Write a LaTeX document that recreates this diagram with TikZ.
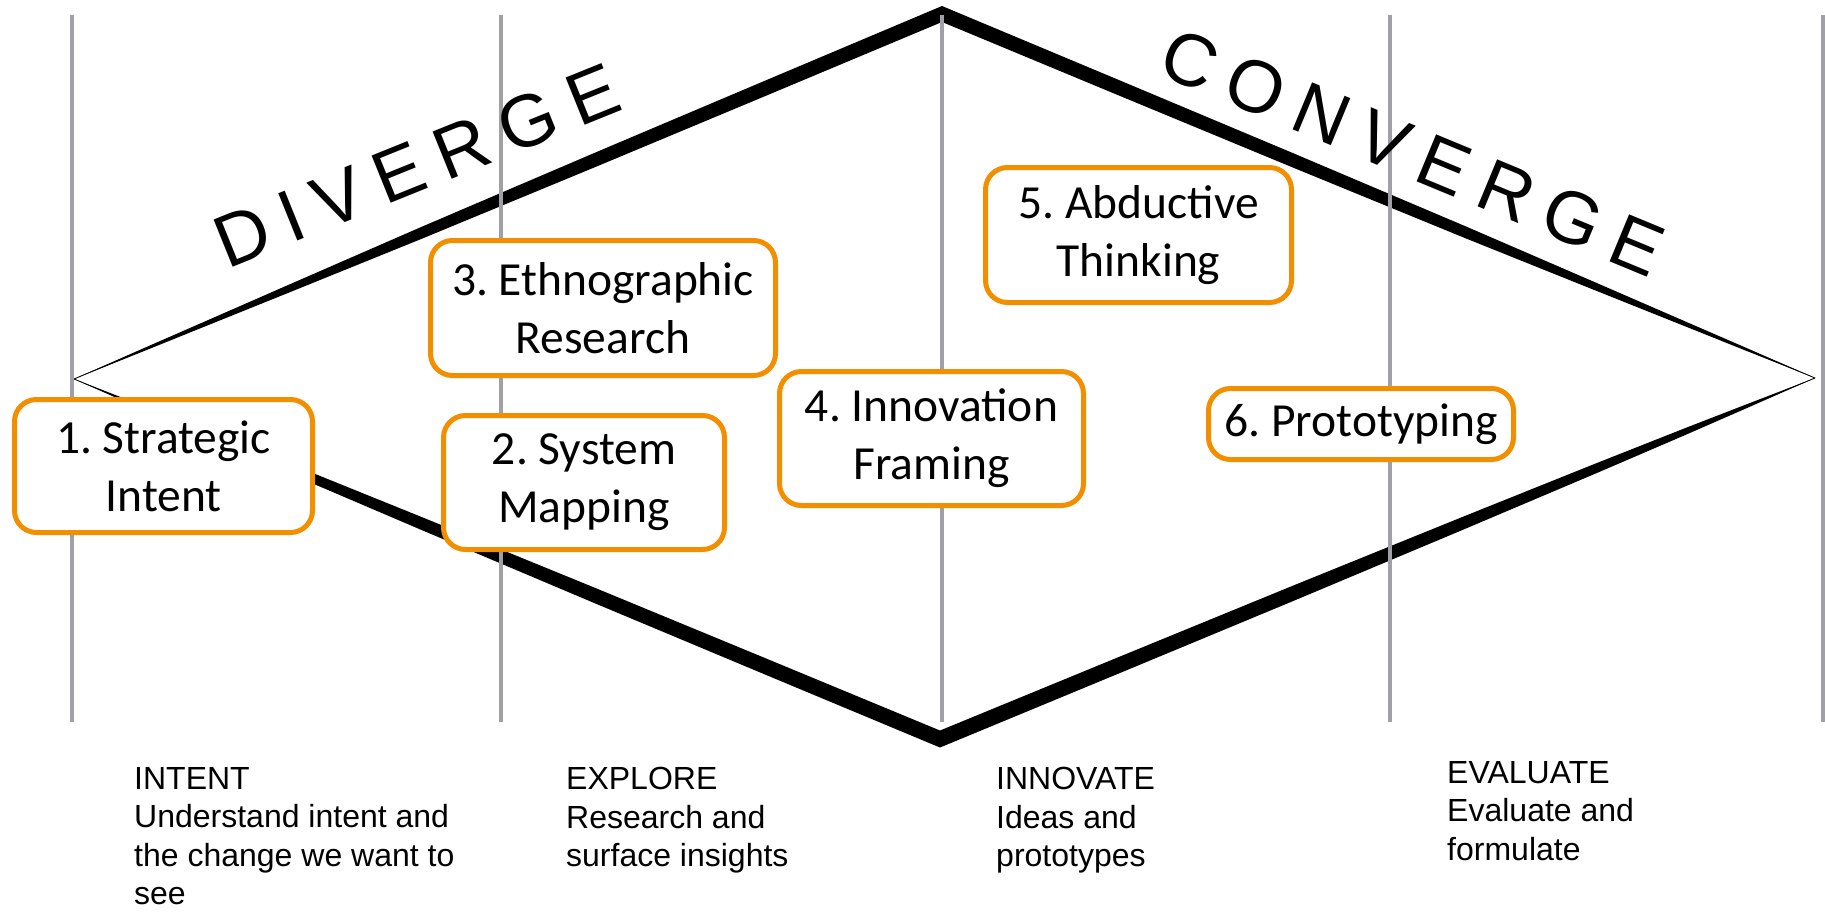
\documentclass[tikz,border=0pt]{standalone}
\usepackage{fontspec}
\setmainfont{Carlito}
\newfontfamily\arialfont{Liberation Sans}
\newfontfamily\spacedfont[LetterSpace=21.6]{Liberation Sans}
\usetikzlibrary{calc}
\definecolor{boxorange}{RGB}{242,143,0}
\definecolor{guidegray}{RGB}{160,160,166}
\def\profup{0.03/1.2,0.08/3,0.15/5,0.25/8,0.4/12,0.6/14.5,0.8/15.5}
\def\profdown{0.8/15.5,0.6/14.5,0.4/12,0.25/8,0.15/5,0.08/3,0.03/1.2}
\def\bprofup{0.03/1.5,0.08/4,0.15/7,0.25/10,0.4/13,0.6/15.5,0.8/16.5}
\def\bprofdown{0.8/16.5,0.6/15.5,0.4/13,0.25/10,0.15/7,0.08/4,0.03/1.5}
\frenchspacing
\begin{document}
\begin{tikzpicture}[x=1pt,y=-1pt,
  stepbox/.style={draw=boxorange, line width=5pt, rounded corners=22pt, fill=white,
    align=center, inner sep=0pt, font=\frenchspacing\fontsize{47.5}{58}\selectfont},
  guide/.style={draw=guidegray, line width=4pt},
  phase/.style={anchor=north west, align=left, inner sep=0pt,
    font=\arialfont\fontsize{32}{38.5}\selectfont},
  bigword/.style={anchor=base west, inner sep=0pt,
    font=\spacedfont\fontsize{74}{80}\selectfont}]
\useasboundingbox (0,0) rectangle (1825,911);
\fill[white] (0,0) rectangle (1825,911);

\coordinate (L) at (74,379);
\coordinate (T) at (942,14);
\coordinate (R) at (1815,378);
\coordinate (B) at (940,739);

% upper chevron (tapered)
\fill (L)
  foreach \t/\h in \profup {-- ($(L)!\t!(T)+(0,{-\h/2})$)}
  -- ($(T)+(0,-8)$)
  foreach \t/\h in \profdown {-- ($(R)!\t!(T)+(0,{-\h/2})$)}
  -- (R)
  foreach \t/\h in \profup {-- ($(R)!\t!(T)+(0,{\h/2})$)}
  -- ($(T)+(0,8)$)
  foreach \t/\h in \profdown {-- ($(L)!\t!(T)+(0,{\h/2})$)}
  -- cycle;
% lower chevron (tapered)
\fill (L)
  foreach \t/\h in \bprofup {-- ($(L)!\t!(B)+(0,{-\h/2})$)}
  -- ($(B)+(0,-8.5)$)
  foreach \t/\h in \bprofdown {-- ($(R)!\t!(B)+(0,{-\h/2})$)}
  -- (R)
  foreach \t/\h in \bprofup {-- ($(R)!\t!(B)+(0,{\h/2})$)}
  -- ($(B)+(0,8.5)$)
  foreach \t/\h in \bprofdown {-- ($(L)!\t!(B)+(0,{\h/2})$)}
  -- cycle;
\draw[line width=0.8pt, line join=round] (L) -- (T) -- (R) -- (B) -- cycle;

% guide lines
\foreach \x in {72,501,942,1390,1823}
  \draw[guide] (\x,15) -- (\x,722);

% headings
\node[bigword, rotate=22] (div) at (227,270) {DIVERGE};
\node[bigword, rotate=-22.5] (conv) at (1155,73) {CONVERGE};

% steps
\node[stepbox, minimum width=298pt, minimum height=133pt] (s1) at (163.5,466) {1. Strategic\\Intent};
\node[stepbox, minimum width=345pt, minimum height=135pt] (s3) at (603,308) {3. Ethnographic\\Research};
\node[stepbox, minimum width=281pt, minimum height=134pt] (s2) at (584,482.5) {2. System\\Mapping};
\node[stepbox, minimum width=304pt, minimum height=134pt] (s4) at (931.5,438.5) {4. Innovation\\Framing};
\node[stepbox, minimum width=306pt, minimum height=135pt] (s5) at (1138.5,235) {5. Abductive\\Thinking};
\node[stepbox, minimum width=305pt, minimum height=71pt] (s6) at (1361,424) {6. Prototyping};

% phase labels
\node[phase] (p1) at (134,767) {INTENT\\Understand intent and\\the change we want to\\see};
\node[phase] (p2) at (566,767) {EXPLORE\\Research and\\surface insights};
\node[phase] (p3) at (996,767) {INNOVATE\\Ideas and\\prototypes};
\node[phase] (p4) at (1447,761) {EVALUATE\\Evaluate and\\formulate};
\end{tikzpicture}
\end{document}
